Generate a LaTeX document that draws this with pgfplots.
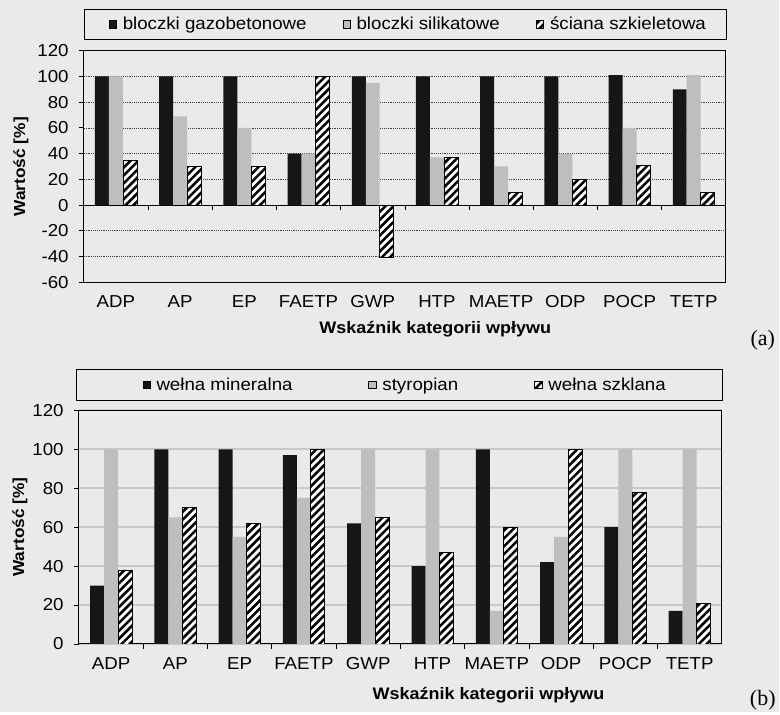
\documentclass[border=0pt]{standalone}
\usepackage{fontspec}
\setmainfont{Liberation Sans}[FakeStretch=1.08]
\newfontfamily\seriffont{Liberation Serif}
\usepackage{pgfplots}
\pgfplotsset{compat=1.18}
\usetikzlibrary{patterns.meta}

\definecolor{paper}{RGB}{234,234,234}
\definecolor{barblack}{RGB}{22,22,22}
\definecolor{bargray}{RGB}{190,190,190}
\definecolor{gridb}{RGB}{200,200,200}

\tikzdeclarepattern{
  name=thickstripes,
  type=uncolored,
  bounding box={(0pt,-0.5pt) and (4.2pt,4.7pt)},
  tile size={(4.2pt,4.2pt)},
  tile transformation={rotate=45},
  code={\draw[line width=1.9pt] (-0.5pt,2.1pt) -- (4.7pt,2.1pt);}
}

\pgfplotsset{
  common/.style={
    anchor=south west, scale only axis,
    xmin=0.5, xmax=10.5, xtick={1,...,10},
    xticklabels={ADP,AP,EP,FAETP,GWP,HTP,MAETP,ODP,POCP,TETP},
    ybar=0pt, bar width=10.5pt,
    axis line style={black, line width=0.8pt},
    tick align=outside, xtick pos=bottom, ytick pos=left,
    major tick length=3.75pt, minor tick length=3.5pt,
    major x tick style={draw=none},
    y tick style={black, line width=0.6pt},
    tick label style={font=\fontsize{13}{15}\selectfont, inner sep=0pt},
    yticklabel style={anchor=east, xshift=-7.5pt},
    xticklabel style={anchor=north, yshift=-6pt},
    /pgf/number format/assume math mode=true,
    legend columns=3,
    legend cell align=left,
    legend image code/.code={\draw[##1] (0pt,-2.8pt) rectangle (5.6pt,2.8pt);},
  },
  blackbar/.style={fill=barblack, draw=none},
  graybar/.style={fill=bargray, draw=none},
  hatchbar/.style={fill=white, draw=black, line width=0.6pt, postaction={pattern=thickstripes, pattern color=black}},
}

\begin{document}
\begin{tikzpicture}
\fill[paper] (0pt,0pt) rectangle (585pt,534.75pt);
% legend frames
\draw[black, line width=0.7pt] (63.75pt,504.75pt) rectangle (546pt,528pt);
\draw[black, line width=0.7pt] (57.75pt,234pt) rectangle (543pt,257.25pt);

% ---------------- panel (a)
\begin{axis}[common,
  at={(63pt,322.7pt)},
  width=482.25pt, height=174pt,
  ymin=-60, ymax=120, ytick={-60,-40,...,120},
  ymajorgrids, grid style={black!75, densely dotted, line width=0.5pt},
  legend style={draw=none, fill=none, at={(0.506,1.113)}, anchor=center,
    font=\fontsize{13}{15}\selectfont,
    /tikz/every odd column/.append style={column sep=2.5pt},
    /tikz/every even column/.append style={column sep=25pt}},
]
\addplot[blackbar] coordinates {(1,100) (2,100) (3,100) (4,40) (5,100) (6,100) (7,100) (8,100) (9,101) (10,90)};
\addplot[graybar] coordinates {(1,100) (2,69) (3,60) (4,40) (5,95) (6,37) (7,30) (8,40) (9,60) (10,101)};
\addplot[hatchbar] coordinates {(1,35) (2,30) (3,30) (4,100) (5,-41) (6,37) (7,10) (8,20) (9,31) (10,10)};
\legend{bloczki gazobetonowe, bloczki silikatowe, ściana szkieletowa}
\draw[black, line width=0.8pt] (axis cs:0.5,0) -- (axis cs:10.5,0);
\pgfplotsinvokeforeach{1.5,2.5,3.5,4.5,5.5,6.5,7.5,8.5,9.5}{
  \draw[black, line width=0.5pt] (axis cs:#1,0) -- ++(0pt,-3.5pt);
}
\end{axis}

% ---------------- panel (b)
\begin{axis}[common,
  at={(59.25pt,51pt)},
  width=483pt, height=175.5pt,
  ymin=0, ymax=120, ytick={0,20,...,120},
  minor xtick={1.5,2.5,...,9.5},
  minor x tick style={black, line width=0.5pt},
  ymajorgrids, grid style={gridb, line width=1.3pt},
  legend style={draw=none, fill=none, at={(0.508,1.109)}, anchor=center,
    font=\fontsize{13}{15}\selectfont,
    /tikz/every odd column/.append style={column sep=2.5pt},
    /tikz/every even column/.append style={column sep=55pt}},
]
\addplot[blackbar] coordinates {(1,30) (2,100) (3,100) (4,97) (5,62) (6,40) (7,100) (8,42) (9,60) (10,17)};
\addplot[graybar] coordinates {(1,100) (2,65) (3,55) (4,75) (5,100) (6,100) (7,17) (8,55) (9,100) (10,100)};
\addplot[hatchbar] coordinates {(1,38) (2,70) (3,62) (4,100) (5,65) (6,47) (7,60) (8,100) (9,78) (10,21)};
\legend{wełna mineralna, styropian, wełna szklana}
\end{axis}

% axis titles
\node[rotate=90, font=\bfseries\fontsize{12}{14}\selectfont] at (15.75pt,409.5pt) {Wartość [\%]};
\node[rotate=90, font=\bfseries\fontsize{12}{14}\selectfont] at (15pt,138.75pt) {Wartość [\%]};
\node[font=\bfseries\fontsize{12.5}{15}\selectfont] at (327pt,287.25pt) {Wskaźnik kategorii wpływu};
\node[font=\bfseries\fontsize{12.5}{15}\selectfont] at (367pt,12.75pt) {Wskaźnik kategorii wpływu};
\node[font=\seriffont\fontsize{16.5}{18}\selectfont] at (573pt,279pt) {(a)};
\node[font=\seriffont\fontsize{16.5}{18}\selectfont] at (573pt,9pt) {(b)};
\end{tikzpicture}
\end{document}
